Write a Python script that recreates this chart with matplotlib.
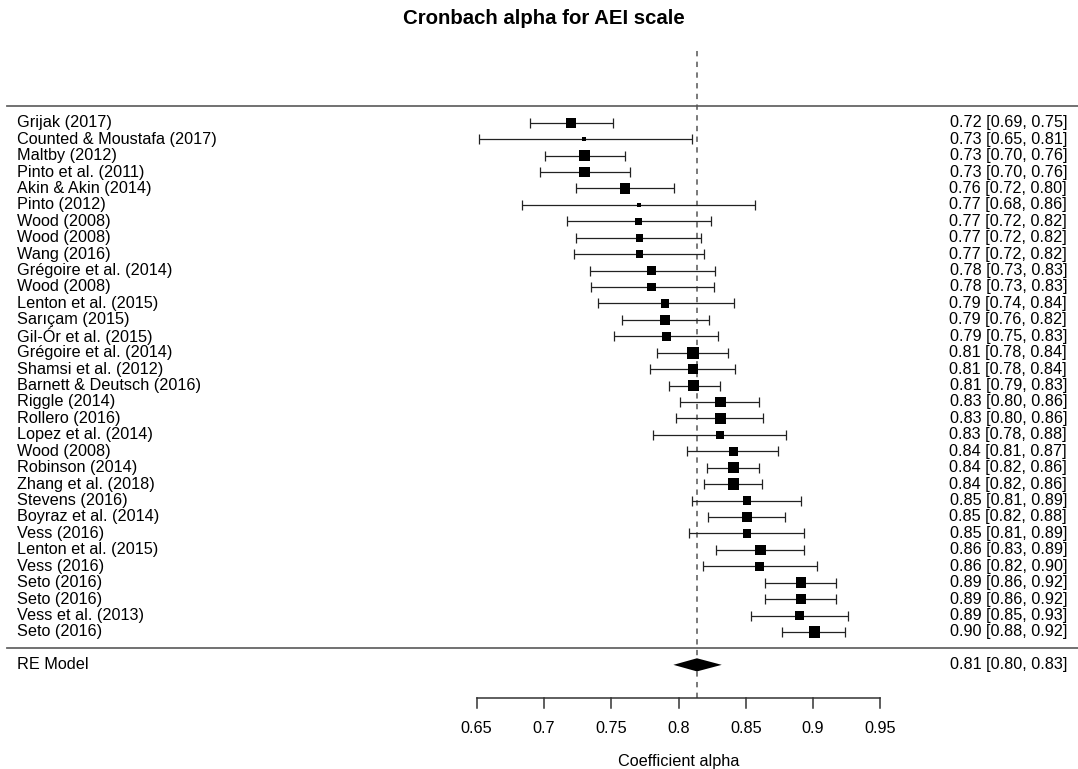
import numpy as np
import matplotlib.pyplot as plt
from matplotlib import transforms

plt.rcParams['font.family'] = ['Liberation Sans', 'DejaVu Sans']

studies = [
    "Grijak (2017)", "Counted & Moustafa (2017)", "Maltby (2012)", "Pinto et al. (2011)",
    "Akin & Akin (2014)", "Pinto (2012)", "Wood (2008)", "Wood (2008)", "Wang (2016)",
    "Grégoire et al. (2014)", "Wood (2008)", "Lenton et al. (2015)", "Sarıçam (2015)",
    "Gil-Ór et al. (2015)", "Grégoire et al. (2014)", "Shamsi et al. (2012)",
    "Barnett & Deutsch (2016)", "Riggle (2014)", "Rollero (2016)", "Lopez et al. (2014)",
    "Wood (2008)", "Robinson (2014)", "Zhang et al. (2018)", "Stevens (2016)",
    "Boyraz et al. (2014)", "Vess (2016)", "Lenton et al. (2015)", "Vess (2016)",
    "Seto (2016)", "Seto (2016)", "Vess et al. (2013)", "Seto (2016)",
]
alpha = [0.720, 0.730, 0.730, 0.730, 0.760, 0.771, 0.770, 0.771, 0.771, 0.780, 0.780,
         0.790, 0.790, 0.791, 0.811, 0.811, 0.811, 0.831, 0.831, 0.831, 0.841, 0.841,
         0.841, 0.851, 0.851, 0.851, 0.861, 0.860, 0.891, 0.891, 0.890, 0.901]
ci_low = [0.690, 0.652, 0.701, 0.697, 0.724, 0.684, 0.717, 0.724, 0.722, 0.734, 0.735,
          0.740, 0.758, 0.752, 0.784, 0.779, 0.793, 0.801, 0.798, 0.781, 0.806, 0.821,
          0.819, 0.810, 0.822, 0.808, 0.828, 0.818, 0.864, 0.864, 0.854, 0.877]
ci_high = [0.751, 0.810, 0.760, 0.764, 0.797, 0.857, 0.824, 0.817, 0.819, 0.827, 0.826,
           0.841, 0.823, 0.829, 0.837, 0.842, 0.831, 0.860, 0.863, 0.880, 0.874, 0.860,
           0.862, 0.891, 0.879, 0.893, 0.893, 0.903, 0.917, 0.917, 0.926, 0.924]
# relative study weights (%)
weights = [3.45, 1.0, 3.6, 3.6, 3.45, 1.0, 2.15, 2.45, 2.45, 2.7, 2.7, 2.7, 3.45, 3.05,
           4.0, 3.2, 3.85, 3.6, 3.6, 2.7, 3.05, 3.85, 3.85, 2.7, 3.45, 2.7, 3.6, 2.85,
           3.6, 3.6, 3.05, 3.85]

re_est, re_low, re_high = 0.8137, 0.7962, 0.8321
tick_vals = [0.65, 0.7, 0.75, 0.8, 0.85, 0.9, 0.95]

k = len(studies)
rows = np.arange(k, 0, -1)
alpha = np.array(alpha)
lo = np.array(ci_low)
hi = np.array(ci_high)
w = np.array(weights)

fig = plt.figure(figsize=(10.78, 7.69), dpi=100)
ax = fig.add_axes([0, 0, 1, 1])
ax.set_xlim(0.2959, 1.0968)
ax.set_ylim(-7.34, 39.47)
ax.axis('off')

fs = 11.7
left = transforms.blended_transform_factory(fig.transFigure, ax.transData)

# separator lines and reference line
ax.plot([0.0065, 1], [k + 1, k + 1], color='#666666', lw=1.3, transform=left, clip_on=False)
ax.plot([0.0065, 1], [0, 0], color='#666666', lw=1.3, transform=left, clip_on=False)
ax.plot([re_est, re_est], [-3, 36.5], color='#555555', lw=1.1, ls=(0, (3.5, 3.5)))

# confidence intervals and weighted boxes
ax.errorbar(alpha, rows, xerr=[alpha - lo, hi - alpha], fmt='none', ecolor='#222222',
            elinewidth=0.9, capsize=3.6, capthick=0.9)
box_px = 4 + (w - w.min()) / (w.max() - w.min()) * 7.7
ax.scatter(alpha, rows, marker='s', s=(box_px * 0.72) ** 2, color='black', lw=0, zorder=3)

# summary diamond
ax.fill([re_low, re_est, re_high, re_est], [-1, -0.6, -1, -1.4], color='black', lw=0, zorder=3)

for r, name, a, l, h in zip(rows, studies, alpha, lo, hi):
    ax.text(0.0155, r, name, transform=left, fontsize=fs, va='center', ha='left')
    ax.text(0.9898, r, f"{a:.2f} [{l:.2f}, {h:.2f}]", transform=left, fontsize=fs,
            va='center', ha='right')
ax.text(0.0155, -1, "RE Model", transform=left, fontsize=fs, va='center', ha='left')
ax.text(0.9898, -1, f"{re_est:.2f} [{re_low:.2f}, {re_high:.2f}]", transform=left,
        fontsize=fs, va='center', ha='right')

# x axis
ax.plot([tick_vals[0], tick_vals[-1]], [-3, -3], color='#333333', lw=1.1)
for t in tick_vals:
    ax.plot([t, t], [-3, -3.6], color='#333333', lw=1.1)
    ax.text(t, -4.9, f"{t:g}", fontsize=fs, ha='center', va='center')
ax.text(0.80, -6.9, "Coefficient alpha", fontsize=fs, ha='center', va='center')

fig.text(0.5046, 1 - 18 / 769, "Cronbach alpha for AEI scale", fontsize=14.7,
         fontweight='bold', ha='center', va='center')

fig.savefig('out.png', dpi=100)
